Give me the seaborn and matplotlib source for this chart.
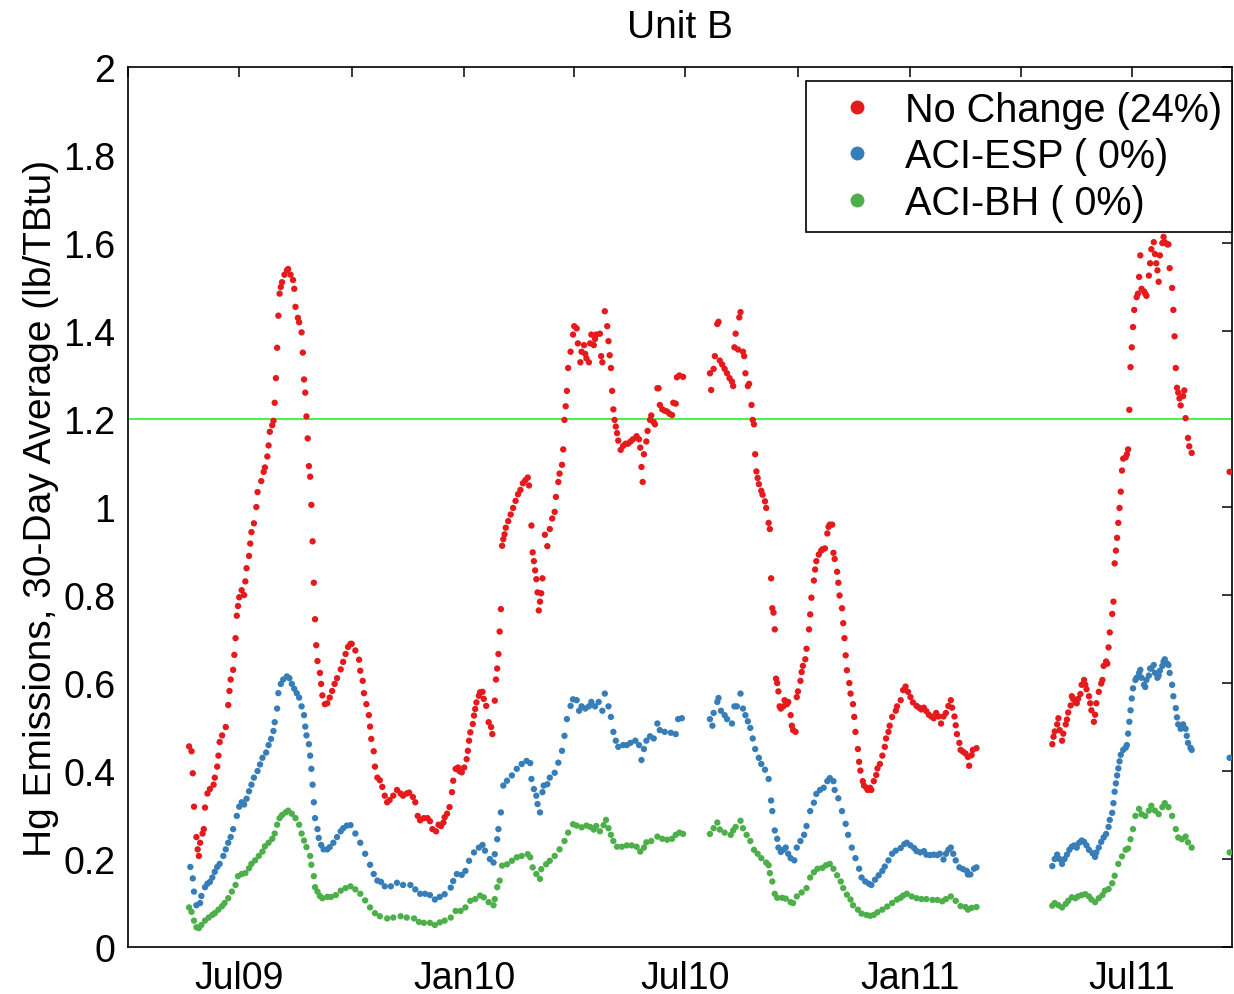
import pandas as pd
import matplotlib
matplotlib.use("Agg")
import matplotlib.pyplot as plt
import matplotlib.dates as mdates
from matplotlib.ticker import FuncFormatter, MultipleLocator
from matplotlib.lines import Line2D
import seaborn as sns

# Day offsets are counted from this date
BASE_DATE = pd.Timestamp("2009-07-01")

# 30-day rolling Hg emission rate (lb/TBtu): (day offset, value)
no_change = [
    (-41, .456), (-39, .445), (-38, .395), (-37, .319), (-35, .25), (-34, .222), (-33, .207), (-32, .237),
    (-30, .258), (-29, .268), (-28, .317), (-26, .349), (-24, .359), (-21, .369), (-20, .385), (-18, .41),
    (-17, .435), (-16, .466), (-14, .481), (-11, .5), (-9, .55), (-8, .582), (-7, .608), (-5, .63),
    (-4, .664), (-3, .702), (-2, .753), (-1, .775), (0, .795), (2, .811), (4, .80), (5, .831), (6, .861),
    (8, .889), (9, .917), (10, .943), (12, .963), (14, 1.0), (15, 1.034), (18, 1.059), (20, 1.08),
    (21, 1.09), (23, 1.115), (24, 1.14), (25, 1.171), (27, 1.186), (28, 1.196), (29, 1.237), (30, 1.293),
    (31, 1.362), (32, 1.435), (33, 1.485), (34, 1.50), (35, 1.511), (37, 1.528), (39, 1.538), (40, 1.541),
    (42, 1.528), (44, 1.516), (45, 1.496), (46, 1.455), (48, 1.43), (49, 1.42), (51, 1.397), (52, 1.351),
    (53, 1.29), (54, 1.26), (55, 1.206), (56, 1.156), (57, 1.093), (58, 1.069), (59, 1.005), (60, .922),
    (61, .828), (62, .745), (63, .686), (64, .65), (66, .623), (67, .598), (68, .572), (70, .552),
    (72, .554), (74, .567), (76, .582), (78, .598), (80, .611), (83, .631), (85, .648), (87, .666),
    (89, .682), (91, .689), (92, .689), (95, .674), (98, .653), (99, .628), (101, .605), (102, .577),
    (104, .552), (106, .527), (107, .501), (108, .473), (110, .445), (111, .41), (113, .385), (115, .379),
    (117, .364), (119, .344), (121, .329), (123, .334), (126, .344), (129, .357), (132, .349), (134, .344),
    (137, .349), (139, .351), (142, .341), (144, .329), (146, .298), (148, .288), (151, .293), (154, .293),
    (156, .286), (158, .268), (161, .263), (163, .278), (165, .275), (167, .283), (168, .295), (170, .303),
    (172, .318), (174, .352), (175, .378), (177, .405), (179, .408), (180, .40), (182, .397), (184, .408),
    (186, .427), (187, .446), (188, .469), (189, .488), (191, .507), (192, .526), (193, .541), (194, .556),
    (196, .571), (197, .579), (199, .58), (200, .564), (202, .548), (204, .511), (206, .50), (207, .484),
    (209, .56), (210, .608), (211, .633), (212, .666), (213, .717), (214, .768), (215, .912), (216, .927),
    (217, .938), (218, .953), (220, .968), (222, .983), (224, .998), (226, 1.014), (228, 1.029),
    (230, 1.039), (232, 1.054), (234, 1.061), (236, 1.067), (237, 1.049), (239, .958), (240, .897),
    (241, .877), (242, .856), (243, .836), (244, .806), (245, .765), (246, .785), (247, .804), (248, .838),
    (250, .937), (252, .911), (254, .95), (256, .974), (258, .989), (259, 1.023), (261, 1.057),
    (262, 1.076), (264, 1.096), (265, 1.131), (266, 1.198), (267, 1.229), (268, 1.264), (269, 1.316),
    (271, 1.353), (273, 1.392), (274, 1.411), (276, 1.406), (277, 1.372), (279, 1.329), (280, 1.353),
    (282, 1.368), (283, 1.348), (284, 1.338), (286, 1.329), (287, 1.372), (288, 1.392), (290, 1.368),
    (291, 1.382), (292, 1.392), (295, 1.394), (296, 1.343), (297, 1.329), (299, 1.445), (301, 1.411),
    (302, 1.377), (303, 1.345), (304, 1.316), (305, 1.264), (306, 1.222), (307, 1.198), (308, 1.183),
    (309, 1.168), (310, 1.151), (312, 1.13), (314, 1.139), (316, 1.144), (318, 1.144), (320, 1.149),
    (322, 1.154), (325, 1.161), (327, 1.154), (328, 1.135), (329, 1.091), (330, 1.057), (331, 1.12),
    (333, 1.149), (334, 1.173), (336, 1.198), (337, 1.208), (339, 1.193), (340, 1.188), (342, 1.27),
    (343, 1.27), (344, 1.232), (346, 1.222), (348, 1.219), (350, 1.217), (352, 1.212), (354, 1.209),
    (355, 1.237), (357, 1.235), (358, 1.295), (360, 1.299), (363, 1.296),
    (385, 1.304), (386, 1.266), (388, 1.314), (389, 1.343), (391, 1.416), (392, 1.421), (393, 1.333),
    (395, 1.324), (397, 1.314), (399, 1.304), (401, 1.293), (403, 1.285), (404, 1.275), (405, 1.363),
    (406, 1.394), (408, 1.358), (409, 1.431), (410, 1.443), (412, 1.353), (413, 1.343), (414, 1.304),
    (416, 1.275), (417, 1.28), (419, 1.232), (420, 1.198), (421, 1.188), (422, 1.12), (423, 1.081),
    (424, 1.066), (425, 1.052), (427, 1.037), (428, 1.028), (430, 1.013), (431, .998), (433, .964),
    (434, .95), (435, .838), (436, .77), (437, .76), (438, .722), (439, .61), (440, .60), (441, .581),
    (442, .547), (443, .542), (445, .547), (446, .561), (448, .552), (449, .557), (451, .527), (452, .503),
    (453, .493), (455, .489), (456, .568), (457, .581), (459, .605), (460, .625), (461, .639), (463, .654),
    (464, .678), (466, .722), (467, .756), (468, .794), (470, .833), (471, .858), (472, .877), (474, .892),
    (476, .901), (477, .904), (479, .906), (481, .94), (482, .955), (483, .96), (485, .96), (486, .896),
    (487, .882), (489, .853), (490, .828), (491, .799), (493, .77), (494, .736), (495, .702), (496, .663),
    (497, .629), (499, .60), (500, .576), (502, .552), (503, .523), (504, .489), (506, .45), (507, .421),
    (508, .401), (510, .377), (511, .367), (513, .362), (514, .357), (516, .362), (517, .357), (519, .377),
    (521, .391), (522, .406), (524, .416), (526, .435), (528, .455), (529, .474), (531, .489), (532, .503),
    (534, .523), (537, .537), (538, .547), (541, .561), (543, .584), (545, .592), (547, .58), (549, .568),
    (551, .556), (554, .548), (556, .544), (558, .54), (560, .544), (562, .536), (564, .528), (566, .524),
    (568, .52), (570, .532), (572, .524), (574, .508), (576, .524), (578, .532), (580, .548), (582, .561),
    (583, .544), (585, .524), (586, .504), (587, .484), (589, .464), (590, .448), (592, .444), (594, .44),
    (596, .432), (597, .412), (599, .436), (600, .448), (603, .452),
    (665, .461), (666, .478), (667, .49), (669, .506), (670, .52), (671, .493), (673, .469), (674, .485),
    (676, .506), (677, .517), (678, .533), (680, .549), (681, .57), (682, .564), (684, .556), (685, .554),
    (686, .564), (688, .575), (689, .596), (691, .607), (692, .596), (693, .586), (695, .57), (696, .554),
    (697, .538), (699, .512), (700, .528), (701, .554), (703, .58), (705, .599), (706, .607), (707, .639),
    (709, .649), (710, .644), (711, .681), (712, .715), (714, .757), (715, .785), (716, .872), (717, .901),
    (718, .93), (719, .964), (720, .998), (721, 1.035), (722, 1.083), (723, 1.11), (725, 1.113),
    (726, 1.12), (727, 1.131), (728, 1.221), (729, 1.318), (730, 1.363), (731, 1.409), (732, 1.448),
    (734, 1.477), (735, 1.485), (736, 1.523), (737, 1.572), (738, 1.496), (740, 1.49), (741, 1.485),
    (742, 1.48), (744, 1.526), (745, 1.554), (746, 1.586), (748, 1.602), (749, 1.575), (750, 1.554),
    (751, 1.538), (752, 1.512), (753, 1.572), (755, 1.60), (756, 1.614), (757, 1.602), (759, 1.597),
    (760, 1.597), (761, 1.543), (763, 1.498), (764, 1.448), (765, 1.388), (766, 1.316), (767, 1.271),
    (768, 1.26), (769, 1.247), (770, 1.231), (772, 1.252), (773, 1.265), (774, 1.202), (776, 1.157),
    (777, 1.138), (779, 1.123),
    (810, 1.08),
]

aci_esp = [
    (-40, .182), (-38, .156), (-37, .126), (-35, .095), (-32, .10), (-31, .116), (-28, .136), (-26, .144),
    (-24, .148), (-22, .158), (-20, .171), (-18, .182), (-16, .189), (-13, .207), (-11, .222), (-9, .237),
    (-7, .25), (-5, .268), (-2, .298), (0, .319), (2, .329), (4, .324), (6, .337), (8, .354), (10, .369),
    (12, .385), (15, .40), (17, .415), (19, .43), (22, .442), (24, .459), (26, .473), (28, .491),
    (29, .511), (31, .542), (32, .577), (34, .598), (36, .608), (39, .615), (41, .611), (43, .598),
    (45, .587), (47, .577), (49, .567), (51, .547), (53, .527), (54, .501), (55, .481), (57, .461),
    (58, .435), (59, .405), (60, .369), (61, .329), (62, .293), (64, .268), (65, .248), (67, .232),
    (69, .222), (72, .222), (74, .227), (77, .237), (80, .25), (83, .263), (85, .27), (88, .276),
    (91, .277), (95, .258), (99, .237), (103, .212), (107, .187), (110, .166), (113, .151), (116, .148),
    (119, .138), (124, .138), (129, .146), (134, .141), (140, .141), (144, .131), (148, .121), (152, .121),
    (156, .118), (160, .108), (164, .114), (168, .12), (173, .135), (175, .15), (178, .166), (182, .164),
    (185, .173), (188, .196), (192, .215), (196, .226), (199, .232), (201, .219), (205, .20), (208, .192),
    (209, .211), (211, .245), (212, .268), (214, .306), (216, .367), (219, .378), (223, .39), (227, .405),
    (231, .416), (235, .423), (238, .418), (239, .382), (241, .359), (243, .344), (244, .325), (246, .306),
    (248, .352), (249, .367), (252, .37), (254, .385), (258, .396), (261, .419), (264, .446), (266, .48),
    (268, .518), (271, .548), (273, .563), (276, .561), (278, .537), (280, .547), (283, .542), (286, .547),
    (288, .557), (291, .547), (294, .557), (297, .537), (299, .576), (302, .547), (304, .523), (306, .489),
    (308, .469), (310, .455), (314, .459), (317, .459), (320, .464), (324, .469), (327, .459), (329, .425),
    (331, .45), (333, .469), (336, .479), (339, .474), (342, .508), (344, .493), (348, .489), (353, .487),
    (357, .484), (359, .518), (362, .52),
    (385, .518), (387, .503), (388, .532), (391, .557), (392, .566), (394, .537), (397, .527), (399, .518),
    (403, .508), (405, .547), (407, .547), (410, .576), (412, .542), (414, .527), (416, .513), (418, .498),
    (420, .474), (422, .45), (425, .43), (427, .416), (430, .403), (433, .382), (435, .333), (436, .309),
    (438, .265), (440, .246), (441, .226), (443, .216), (445, .221), (447, .226), (449, .212), (451, .202),
    (454, .197), (456, .226), (459, .241), (462, .255), (464, .275), (467, .309), (470, .328), (472, .348),
    (475, .357), (478, .362), (481, .377), (483, .384), (486, .377), (487, .357), (490, .338), (493, .309),
    (496, .28), (498, .255), (501, .226), (504, .202), (507, .178), (509, .158), (512, .149), (515, .144),
    (517, .141), (520, .153), (523, .163), (526, .173), (528, .183), (531, .197), (534, .212), (537, .219),
    (541, .225), (544, .234), (546, .237), (549, .231), (552, .225), (554, .218), (557, .215), (560, .218),
    (562, .21), (565, .209), (568, .21), (571, .209), (573, .212), (576, .199), (578, .212), (580, .221),
    (582, .226), (584, .212), (586, .197), (589, .181), (592, .177), (595, .173), (596, .165), (598, .165),
    (601, .178), (603, .181),
    (665, .184), (667, .20), (669, .21), (671, .20), (673, .189), (675, .20), (677, .21), (679, .221),
    (681, .228), (683, .231), (685, .226), (687, .237), (689, .242), (691, .239), (693, .231), (695, .221),
    (698, .213), (700, .205), (701, .215), (703, .226), (705, .239), (707, .249), (709, .257), (711, .273),
    (712, .289), (714, .305), (715, .327), (716, .353), (717, .372), (718, .39), (719, .406), (720, .422),
    (721, .437), (723, .448), (725, .453), (726, .459), (727, .485), (728, .512), (729, .538), (730, .565),
    (731, .588), (733, .607), (734, .612), (736, .623), (737, .63), (738, .612), (740, .596), (741, .591),
    (742, .607), (744, .617), (745, .633), (746, .633), (748, .641), (749, .623), (751, .612), (752, .617),
    (753, .628), (755, .639), (756, .649), (757, .654), (759, .644), (760, .641), (761, .623), (763, .596),
    (764, .57), (766, .543), (767, .522), (768, .506), (770, .496), (771, .501), (772, .506), (774, .496),
    (775, .48), (776, .464), (778, .453), (779, .448),
    (810, .43),
]

aci_bh = [
    (-41, .09), (-39, .08), (-37, .06), (-35, .045), (-33, .043), (-31, .05), (-28, .06), (-25, .067),
    (-22, .073), (-20, .077), (-17, .085), (-14, .093), (-12, .10), (-9, .111), (-6, .126), (-3, .141),
    (-1, .161), (2, .166), (5, .168), (8, .179), (10, .189), (13, .197), (16, .207), (19, .217),
    (21, .229), (24, .237), (27, .246), (29, .258), (31, .278), (33, .293), (35, .30), (38, .306),
    (40, .31), (43, .303), (46, .293), (49, .278), (51, .258), (53, .242), (55, .227), (58, .207),
    (59, .187), (61, .161), (62, .136), (64, .126), (66, .116), (68, .111), (72, .114), (75, .114),
    (79, .118), (83, .128), (87, .134), (91, .138), (95, .131), (99, .121), (103, .106), (107, .09),
    (111, .077), (115, .07), (121, .065), (126, .067), (132, .07), (137, .067), (143, .065), (147, .057),
    (151, .055), (156, .055), (160, .05), (164, .056), (168, .06), (173, .067), (177, .082), (181, .082),
    (185, .09), (189, .105), (193, .109), (197, .117), (200, .113), (204, .102), (208, .095), (209, .109),
    (211, .136), (213, .151), (215, .185), (219, .188), (223, .196), (227, .204), (231, .207), (236, .211),
    (238, .204), (240, .181), (243, .166), (246, .155), (247, .177), (251, .188), (254, .196), (258, .207),
    (262, .222), (266, .241), (269, .26), (273, .279), (276, .276), (280, .272), (284, .276), (287, .273),
    (290, .267), (292, .275), (295, .263), (298, .277), (300, .289), (302, .27), (304, .255), (306, .241),
    (309, .228), (313, .228), (317, .231), (321, .231), (325, .228), (328, .217), (331, .226), (333, .238),
    (337, .241), (342, .251), (346, .246), (350, .244), (354, .246), (357, .255), (360, .26), (363, .257),
    (385, .257), (388, .27), (391, .283), (393, .267), (397, .26), (402, .255), (404, .265), (406, .273),
    (410, .287), (412, .27), (415, .255), (418, .241), (421, .221), (424, .212), (427, .202), (431, .192),
    (433, .186), (434, .168), (436, .149), (438, .121), (440, .112), (444, .112), (447, .11), (451, .102),
    (453, .10), (456, .115), (460, .124), (464, .134), (467, .158), (470, .17), (473, .178), (477, .18),
    (480, .186), (483, .189), (486, .178), (489, .163), (492, .149), (494, .134), (497, .119), (500, .108),
    (502, .095), (506, .085), (509, .076), (513, .073), (516, .071), (519, .073), (522, .079), (526, .085),
    (530, .092), (534, .10), (538, .108), (541, .112), (543, .117), (546, .121), (550, .115), (554, .111),
    (558, .109), (562, .109), (567, .107), (571, .107), (575, .104), (578, .109), (582, .115), (586, .105),
    (590, .093), (594, .091), (596, .085), (599, .089), (603, .091),
    (665, .094), (667, .10), (670, .095), (673, .09), (676, .098), (678, .105), (681, .113), (684, .111),
    (686, .115), (689, .118), (692, .12), (695, .115), (697, .108), (700, .102), (703, .111), (706, .118),
    (708, .128), (711, .132), (714, .145), (716, .162), (719, .189), (722, .206), (725, .221), (727, .224),
    (729, .245), (731, .268), (733, .298), (736, .314), (738, .302), (741, .298), (744, .31), (746, .321),
    (749, .31), (752, .302), (755, .318), (757, .327), (760, .318), (763, .298), (766, .268), (768, .249),
    (771, .245), (774, .251), (776, .238), (779, .226),
    (810, .215),
]

series_labels = ["No Change (24%)", "ACI-ESP ( 0%)", "ACI-BH ( 0%)"]
limit_value = 1.2
x_start, x_end = "2009-04-01", "2011-09-21"

sns.set_theme(style="white")
plt.rcParams["font.family"] = ["Liberation Sans", "DejaVu Sans"]
plt.rcParams["text.color"] = "black"
plt.rcParams["axes.labelcolor"] = "black"

frames = []
for label, pts in zip(series_labels, [no_change, aci_esp, aci_bh]):
    d = pd.DataFrame(pts, columns=["day", "value"])
    d["date"] = BASE_DATE + pd.to_timedelta(d["day"], unit="D")
    d["series"] = label
    frames.append(d)
df = pd.concat(frames, ignore_index=True)

set1 = sns.color_palette("Set1")
palette = dict(zip(series_labels, [set1[0], set1[1], set1[2]]))

fig = plt.figure(figsize=(12.34, 9.95), dpi=100)
ax = fig.add_axes([0.1037, 0.0472, 0.8947, 0.8844])

ax.axhline(limit_value, color="#4cf04c", lw=1.4, zorder=1)
sns.scatterplot(data=df, x="date", y="value", hue="series", palette=palette,
                s=21, linewidth=0, legend=False, ax=ax, zorder=3)

ax.set_xlim(pd.Timestamp(x_start), pd.Timestamp(x_end))
ax.set_ylim(0, 2)
ax.yaxis.set_major_locator(MultipleLocator(0.2))
ax.yaxis.set_major_formatter(FuncFormatter(lambda v, p: f"{v:g}"))

ax.xaxis.set_major_locator(mdates.MonthLocator(bymonth=[1, 4, 7, 10]))


def date_label(x, pos):
    d = mdates.num2date(x)
    return d.strftime("%b%y") if d.month in (1, 7) else ""


ax.xaxis.set_major_formatter(FuncFormatter(date_label))

ax.tick_params(axis="both", which="major", direction="in", length=7, width=1.1,
               colors="black", labelsize=27, top=True, right=True, pad=9)
for sp in ax.spines.values():
    sp.set_visible(True)
    sp.set_color("black")
    sp.set_linewidth(1.2)

ax.set_xlabel("")
ax.set_ylabel("Hg Emissions, 30-Day Average (lb/TBtu)", fontsize=28, labelpad=3, color="black")
ax.set_title("Unit B", fontsize=28, pad=22, color="black")

handles = [Line2D([], [], ls="", marker="o", markersize=10, markeredgewidth=0,
                  color=palette[l]) for l in series_labels]
leg = ax.legend(handles, series_labels, loc="upper right", bbox_to_anchor=(1.0, 0.984),
                fontsize=28.5, frameon=True, fancybox=False, framealpha=1, edgecolor="black",
                borderaxespad=0, borderpad=0.25, handlelength=2.05, handletextpad=0.19,
                labelspacing=0.21)
leg.get_frame().set_linewidth(1.2)
leg.set_zorder(5)
for t in leg.get_texts():
    t.set_color("black")

fig.savefig("out.png", dpi=100, facecolor="white")
